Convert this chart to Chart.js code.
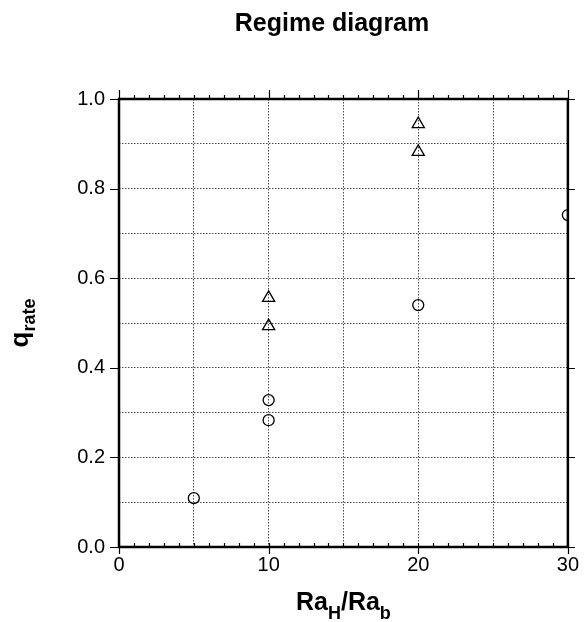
<!DOCTYPE html>
<html><head><meta charset="utf-8">
<script src="https://cdn.jsdelivr.net/npm/chart.js@4/dist/chart.umd.min.js"></script>
<style>html,body{margin:0;padding:0;background:#fff}#wrap{width:585px;height:622px}</style>
</head><body><div id="wrap"><canvas id="c" width="585" height="622"></canvas></div>
<script>
// ---- data ----
const circleX = [5, 10, 10, 20, 30];
const circleY = [0.109, 0.283, 0.328, 0.540, 0.741];
const triangleX = [10, 10, 20, 20];
const triangleY = [0.493, 0.556, 0.882, 0.944];
const xTickLabels = [0, 10, 20, 30];
const yTickLabels = [0.0, 0.2, 0.4, 0.6, 0.8, 1.0];
const chartTitle = 'Regime diagram';
const xTitleParts = [['Ra', false], ['H', true], ['/Ra', false], ['b', true]];
const yTitleParts = [['q', false], ['rate', true]];

const FONT = '"Liberation Sans", Arial, Helvetica, sans-serif';

const toPts = (xs, ys) => xs.map((x, i) => ({x: x, y: ys[i]}));

const framePlugin = {
  id: 'frame',
  afterDatasetsDraw(chart) {
    const ctx = chart.ctx, a = chart.chartArea;
    const xs = chart.scales.x, ys = chart.scales.y;
    ctx.save();
    ctx.strokeStyle = '#000';
    ctx.lineWidth = 1.2;
    for (let v = xs.min; v <= xs.max; v += 1) {
      const px = Math.round(xs.getPixelForValue(v)) + 0.5;
      const major = xTickLabels.includes(v);
      ctx.beginPath();
      ctx.moveTo(px, a.bottom); ctx.lineTo(px, a.bottom - 4);
      if (major) { ctx.moveTo(px, a.bottom); ctx.lineTo(px, a.bottom + 7); }
      ctx.moveTo(px, a.top); ctx.lineTo(px, a.top - (major ? 9 : 4));
      ctx.stroke();
    }
    yTickLabels.forEach(v => {
      const py = Math.round(ys.getPixelForValue(v)) + 0.5;
      ctx.beginPath();
      ctx.moveTo(a.left - 9, py); ctx.lineTo(a.left, py);
      ctx.moveTo(a.right, py); ctx.lineTo(a.right + 7, py);
      ctx.stroke();
    });
    ctx.lineWidth = 2.5;
    ctx.strokeRect(a.left, a.top, a.right - a.left, a.bottom - a.top);
    ctx.restore();
  },
  afterDraw(chart) {
    const ctx = chart.ctx, a = chart.chartArea;
    ctx.save();
    ctx.fillStyle = '#000';
    ctx.textBaseline = 'alphabetic';
    ctx.textAlign = 'left';
    ctx.font = 'bold 25px ' + FONT;
    const tw = ctx.measureText(chartTitle).width;
    ctx.fillText(chartTitle, 332 - tw / 2, 31);
    const partFont = sub => sub ? 'bold 18px ' + FONT : 'bold 25px ' + FONT;
    let total = 0;
    xTitleParts.forEach(([t, s]) => { ctx.font = partFont(s); total += ctx.measureText(t).width; });
    let x = (a.left + a.right) / 2 - total / 2;
    xTitleParts.forEach(([t, s]) => {
      ctx.font = partFont(s);
      ctx.fillText(t, x, s ? 619 : 610);
      x += ctx.measureText(t).width;
    });
    const yFont = sub => sub ? 'bold 18px ' + FONT : 'bold 26px ' + FONT;
    total = 0;
    yTitleParts.forEach(([t, s]) => { ctx.font = yFont(s); total += ctx.measureText(t).width; });
    ctx.translate(28, (a.top + a.bottom) / 2);
    ctx.rotate(-Math.PI / 2);
    let tx = -total / 2;
    yTitleParts.forEach(([t, s]) => {
      ctx.font = yFont(s);
      ctx.fillText(t, tx, s ? 7 : 0);
      tx += ctx.measureText(t).width;
    });
    ctx.restore();
  }
};

const gridColor = (edgeVals) => (c) => {
  const v = c.tick ? c.tick.value : null;
  if (v === null) return 'rgba(0,0,0,0)';
  if (edgeVals.some(e => Math.abs(e - v) < 1e-9)) return 'rgba(0,0,0,0)';
  return 'rgba(30,30,30,0.8)';
};

new Chart(document.getElementById('c'), {
  type: 'scatter',
  data: {
    datasets: [
      {
        label: 'circles', data: toPts(circleX, circleY),
        pointStyle: 'circle', pointRadius: 5.5, pointBorderWidth: 1.3,
        borderColor: '#000', backgroundColor: 'rgba(0,0,0,0)'
      },
      {
        label: 'triangles', data: toPts(triangleX, triangleY),
        pointStyle: 'triangle', pointRadius: 7, pointBorderWidth: 1.3,
        borderColor: '#000', backgroundColor: 'rgba(0,0,0,0)'
      }
    ]
  },
  options: {
    responsive: false, animation: false, devicePixelRatio: 1,
    layout: {padding: {left: 0, top: 99, right: 15, bottom: 0}},
    plugins: {legend: {display: false}, tooltip: {enabled: false}, title: {display: false}},
    scales: {
      x: {
        type: 'linear', min: 0, max: 30,
        afterFit: s => { s.height = 75; },
        ticks: {
          stepSize: 5, color: '#000', padding: 6, maxRotation: 0, autoSkip: false,
          font: {family: FONT, size: 20},
          callback: v => xTickLabels.includes(v) ? String(v) : ''
        },
        grid: {color: gridColor([0, 30]), lineWidth: 1, drawTicks: false},
        border: {display: false, dash: [1.5, 1.5]}
      },
      y: {
        type: 'linear', min: 0, max: 1,
        afterFit: s => { s.width = 119; },
        ticks: {
          stepSize: 0.1, color: '#000', padding: 14, autoSkip: false,
          font: {family: FONT, size: 20},
          callback: v => {
            const m = yTickLabels.find(t => Math.abs(t - v) < 1e-9);
            return m === undefined ? '' : m.toFixed(1);
          }
        },
        grid: {color: gridColor([0, 1]), lineWidth: 1, drawTicks: false},
        border: {display: false, dash: [1.5, 1.5]}
      }
    }
  },
  plugins: [framePlugin]
});
</script>
</body></html>
